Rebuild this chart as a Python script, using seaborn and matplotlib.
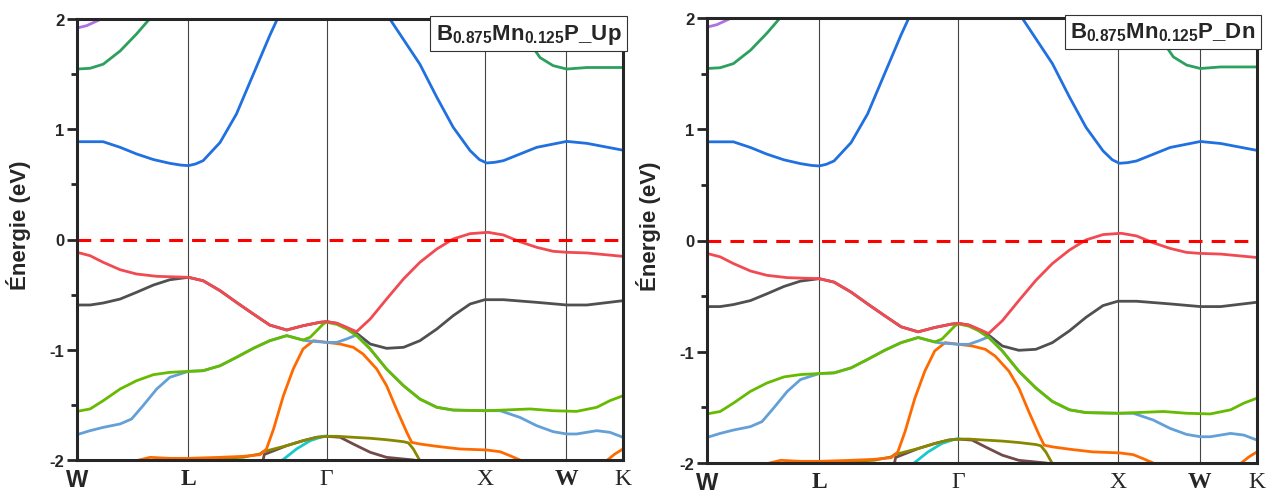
import numpy as np
import pandas as pd
import matplotlib
matplotlib.use('Agg')
import matplotlib.pyplot as plt
import seaborn as sns

# points de haute symétrie (position relative le long du chemin)
kpts = [0.0, 0.204, 0.457, 0.748, 0.896, 1.0]
klabels = ['W', 'L', 'Γ', 'X', 'W', 'K']

# bandes : (k, E)
bande_c1_k = [0.0, 0.024, 0.048, 0.079, 0.109, 0.140, 0.170, 0.190, 0.204, 0.217, 0.231, 0.262, 0.292, 0.323,
              0.353, 0.366, 0.40, 0.457, 0.52, 0.546, 0.573, 0.628, 0.659, 0.689, 0.720, 0.737, 0.750, 0.765,
              0.781, 0.842, 0.897, 0.934, 1.0]
bande_c1_e = [0.887, 0.887, 0.887, 0.836, 0.776, 0.725, 0.691, 0.675, 0.670, 0.685, 0.715, 0.880, 1.138, 1.50,
              1.85, 1.99, 2.5, 2.75, 2.5, 2.2, 2.0, 1.59, 1.29, 1.018, 0.806, 0.725, 0.694, 0.700,
              0.715, 0.836, 0.890, 0.872, 0.810]

bande_c2_k = [0.0, 0.024, 0.048, 0.079, 0.109, 0.131, 0.15, 0.79, 0.82, 0.848, 0.872, 0.897, 0.934, 1.0]
bande_c2_e = [1.546, 1.553, 1.59, 1.71, 1.864, 1.99, 2.15, 2.1, 1.85, 1.65, 1.577, 1.546, 1.56, 1.56]

bande_c3_k = [0.0, 0.018, 0.04, 0.05]
bande_c3_e = [1.918, 1.94, 1.99, 2.05]

rouge_k = [0.0, 0.024, 0.048, 0.079, 0.109, 0.146, 0.204, 0.231, 0.262, 0.292, 0.323, 0.353, 0.384, 0.414,
           0.445, 0.457, 0.476, 0.494, 0.512, 0.537, 0.567, 0.598, 0.628, 0.659, 0.689, 0.720, 0.753, 0.781,
           0.811, 0.842, 0.872, 0.897, 0.934, 1.0]
rouge_e = [-0.116, -0.147, -0.207, -0.274, -0.313, -0.334, -0.343, -0.374, -0.464, -0.570, -0.676, -0.776,
           -0.821, -0.782, -0.751, -0.745, -0.760, -0.797, -0.836, -0.721, -0.540, -0.358, -0.207, -0.086,
           0.005, 0.053, 0.065, 0.041, -0.02, -0.071, -0.107, -0.116, -0.122, -0.153]

noir_k = [0.0, 0.024, 0.048, 0.079, 0.109, 0.140, 0.170, 0.204, 0.231, 0.262, 0.292, 0.323, 0.353, 0.384,
          0.414, 0.445, 0.457, 0.476, 0.494, 0.512, 0.537, 0.567, 0.598, 0.628, 0.659, 0.689, 0.720, 0.747,
          0.781, 0.842, 0.897, 0.934, 1.0]
noir_e = [-0.594, -0.594, -0.576, -0.540, -0.479, -0.413, -0.365, -0.343, -0.374, -0.464, -0.570, -0.676,
          -0.776, -0.821, -0.782, -0.751, -0.745, -0.760, -0.800, -0.850, -0.948, -0.987, -0.978, -0.918,
          -0.812, -0.691, -0.585, -0.546, -0.546, -0.570, -0.594, -0.594, -0.555]

vert_k = [0.0, 0.024, 0.048, 0.079, 0.109, 0.140, 0.170, 0.204, 0.231, 0.262, 0.292, 0.323, 0.353, 0.384,
          0.414, 0.427, 0.439, 0.451, 0.457, 0.476, 0.494, 0.512, 0.537, 0.567, 0.598, 0.628, 0.659, 0.689,
          0.747, 0.781, 0.830, 0.872, 0.915, 0.952, 0.976, 1.0]
vert_e = [-1.559, -1.537, -1.462, -1.356, -1.281, -1.226, -1.205, -1.196, -1.190, -1.145, -1.069, -0.987,
          -0.918, -0.872, -0.912, -0.887, -0.827, -0.766, -0.750, -0.770, -0.812, -0.872, -0.993, -1.175,
          -1.326, -1.447, -1.522, -1.547, -1.553, -1.547, -1.537, -1.553, -1.559, -1.522, -1.462, -1.417]

bleu_k = [0.0, 0.024, 0.048, 0.079, 0.100, 0.121, 0.146, 0.170, 0.204, 0.231, 0.262, 0.292, 0.323, 0.353,
          0.384, 0.414, 0.421, 0.457, 0.476, 0.494, 0.512, 0.537, 0.567, 0.598, 0.628, 0.659, 0.689, 0.747,
          0.775, 0.811, 0.842, 0.872, 0.897, 0.915, 0.952, 0.976, 1.0]
bleu_e = [-1.770, -1.734, -1.704, -1.673, -1.628, -1.507, -1.356, -1.250, -1.196, -1.190, -1.145, -1.069,
          -0.987, -0.918, -0.872, -0.912, -0.919, -0.933, -0.933, -0.902, -0.866, -0.993, -1.175, -1.326,
          -1.447, -1.522, -1.547, -1.553, -1.553, -1.613, -1.689, -1.743, -1.764, -1.764, -1.734, -1.749, -1.794]

orange_k = [0.109, 0.134, 0.170, 0.204, 0.262, 0.304, 0.335, 0.347, 0.360, 0.378, 0.396, 0.414, 0.433,
            0.457, 0.482, 0.506, 0.524, 0.549, 0.567, 0.585, 0.604, 0.613, 0.628, 0.659, 0.701, 0.750,
            0.775, 0.793, 0.814, 0.83]
orange_e = [-2.006, -1.976, -1.985, -1.985, -1.976, -1.967, -1.952, -1.900, -1.719, -1.417, -1.175, -0.993,
            -0.918, -0.933, -0.948, -0.978, -1.039, -1.175, -1.326, -1.537, -1.749, -1.840, -1.855, -1.876,
            -1.900, -1.909, -1.925, -1.961, -2.006, -2.05]
orange2_k = [0.96, 0.970, 0.985, 1.0]
orange2_e = [-2.05, -2.006, -1.946, -1.90]

olive_k = [0.18, 0.204, 0.262, 0.304, 0.335, 0.341, 0.384, 0.414, 0.439, 0.460, 0.476, 0.506, 0.537, 0.567,
           0.598, 0.607, 0.616, 0.628, 0.632]
olive_e = [-2.03, -1.99, -1.985, -1.975, -1.945, -1.925, -1.870, -1.825, -1.794, -1.785, -1.785, -1.794,
           -1.803, -1.816, -1.834, -1.845, -1.900, -2.006, -2.05]

brun_k = [0.340, 0.343, 0.384, 0.414, 0.439, 0.457, 0.482, 0.506, 0.537, 0.567, 0.598, 0.616, 0.64]
brun_e = [-2.02, -1.95, -1.870, -1.825, -1.794, -1.785, -1.794, -1.855, -1.930, -1.976, -1.991, -2.0, -2.02]

cyan_k = [0.372, 0.375, 0.402, 0.427, 0.451, 0.457]
cyan_e = [-2.02, -2.006, -1.900, -1.825, -1.785, -1.782]

bandes = [
    (noir_k, noir_e, '#505050'),
    (brun_k, brun_e, '#734a4a'),
    (cyan_k, cyan_e, '#18c8cc'),
    (olive_k, olive_e, '#888800'),
    (orange_k, orange_e, '#ff6a00'),
    (orange2_k, orange2_e, '#ff6a00'),
    (bleu_k, bleu_e, '#64a0d8'),
    (vert_k, vert_e, '#66bb00'),
    (rouge_k, rouge_e, '#f24a52'),
    (bande_c3_k, bande_c3_e, '#b070e0'),
    (bande_c2_k, bande_c2_e, '#2ca05e'),
    (bande_c1_k, bande_c1_e, '#2070e0'),
]

sns.set_theme(style='ticks')
plt.rcParams['font.family'] = ['Liberation Sans', 'DejaVu Sans']
plt.rcParams['mathtext.fontset'] = 'custom'
plt.rcParams['mathtext.bf'] = 'Liberation Sans:bold'
plt.rcParams['mathtext.rm'] = 'Liberation Sans'

fig = plt.figure(figsize=(12.69, 5.02), dpi=100)
ax1 = fig.add_axes([77/1269, 41/502, 546/1269, 441/502])
ax2 = fig.add_axes([707/1269, 38/502, 550/1269, 445/502])


def trace(ax, titre):
    for k in kpts[1:-1]:
        ax.axvline(k, color='#444444', lw=0.8, zorder=1)
    for bk, be, c in bandes:
        df = pd.DataFrame({'k': bk, 'E': be})
        sns.lineplot(data=df, x='k', y='E', ax=ax, color=c, lw=2.0, sort=False,
                     estimator=None, zorder=2, solid_joinstyle='round', solid_capstyle='round')
    ax.axhline(0, color='#ff0000', lw=2.2, dashes=(4.5, 3), zorder=3)
    ax.set_xlim(0, 1)
    ax.set_ylim(-2, 2)
    ax.set_xticks(kpts)
    ax.set_xticklabels(klabels)
    ax.tick_params(axis='x', length=0, pad=6)
    for i, t in enumerate(ax.get_xticklabels()):
        if i == 0:
            t.set_family('Liberation Sans')
            t.set_fontweight('bold')
            t.set_fontsize(17)
        else:
            t.set_family('Liberation Serif')
            t.set_fontsize(17)
            if klabels[i] in ('L', 'W'):
                t.set_fontweight('bold')
    ax.set_yticks([-2, -1, 0, 1, 2])
    ax.set_yticklabels(['-2', '-1', '0', '1', '2'], fontweight='bold', fontsize=12)
    ax.set_yticks([-1.5, -0.5, 0.5, 1.5], minor=True)
    ax.tick_params(axis='y', which='major', length=7, width=2, direction='out', pad=2)
    ax.tick_params(axis='y', which='minor', length=4, width=2, direction='out')
    ax.set_xlabel('')
    ax.set_ylabel('Énergie (eV)', fontsize=16, fontweight='bold')
    ax.yaxis.set_label_coords(-0.084, 0.535)
    for s in ax.spines.values():
        s.set_linewidth(2.2)
        s.set_visible(True)
        s.set_zorder(5)
    ax.text(0.997, 0.994, titre, transform=ax.transAxes, ha='right', va='top', fontsize=16,
            zorder=6, bbox=dict(boxstyle='square,pad=0.25', facecolor='white', edgecolor='#333333', lw=0.8))


trace(ax1, r'$\mathbf{B_{0.875}Mn_{0.125}P\_Up}$')
trace(ax2, r'$\mathbf{B_{0.875}Mn_{0.125}P\_Dn}$')

fig.savefig('out.png', dpi=100)
